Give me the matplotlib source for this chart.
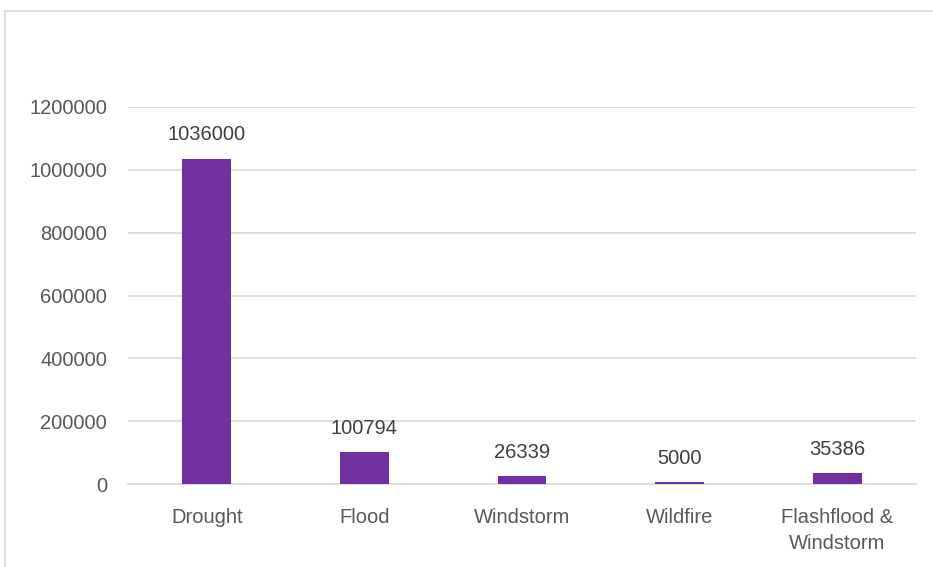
import matplotlib
matplotlib.use("Agg")
import matplotlib.pyplot as plt
from matplotlib.patches import Rectangle

CATEGORIES = ["Drought", "Flood", "Windstorm", "Wildfire", "Flashflood &\nWindstorm"]
VALUES = [1036000, 100794, 26339, 5000, 35386]
Y_TICKS = [0, 200000, 400000, 600000, 800000, 1000000, 1200000]

BAR_COLOR = "#7030A0"
TEXT_COLOR = "#595959"
GRID_COLOR = "#d9d9d9"
FS = 14.5

plt.rcParams['font.family'] = ['Liberation Sans', 'DejaVu Sans']

fig = plt.figure(figsize=(9.33, 5.67), dpi=100)
fig.patch.set_facecolor("white")

# chart border (cut off at right and bottom, as in the screenshot)
fig.patches.append(Rectangle((5 / 933, -0.1), 1.2, 1.1 - 11 / 567,
                             transform=fig.transFigure, fill=False,
                             edgecolor=GRID_COLOR, linewidth=1.2))

ax = fig.add_axes([128 / 933, 1 - 484 / 567, 788 / 933, (484 - 107) / 567])
x = range(len(CATEGORIES))
bars = ax.bar(x, VALUES, width=0.31, color=BAR_COLOR, zorder=3)

for rect, v in zip(bars, VALUES):
    ax.annotate(str(v), (rect.get_x() + rect.get_width() / 2, v),
                xytext=(0, 13), textcoords="offset points",
                ha="center", va="baseline", fontsize=FS, color="#404040")

ax.set_xlim(-0.5, len(CATEGORIES) - 0.5)
ax.set_ylim(0, 1200000)
ax.set_yticks(Y_TICKS)
ax.set_yticklabels([str(t) for t in Y_TICKS])
ax.set_xticks(list(x))
ax.set_xticklabels(CATEGORIES, linespacing=1.5)

ax.grid(axis="y", color=GRID_COLOR, linewidth=1.2, zorder=0)
ax.set_axisbelow(True)
for side in ["top", "right", "left"]:
    ax.spines[side].set_visible(False)
ax.spines["bottom"].set_color(GRID_COLOR)
ax.spines["bottom"].set_linewidth(1.2)

ax.tick_params(axis="both", length=0, labelsize=FS, colors=TEXT_COLOR)
ax.tick_params(axis="y", pad=15)
ax.tick_params(axis="x", pad=17)

fig.savefig("out.png", dpi=100)
